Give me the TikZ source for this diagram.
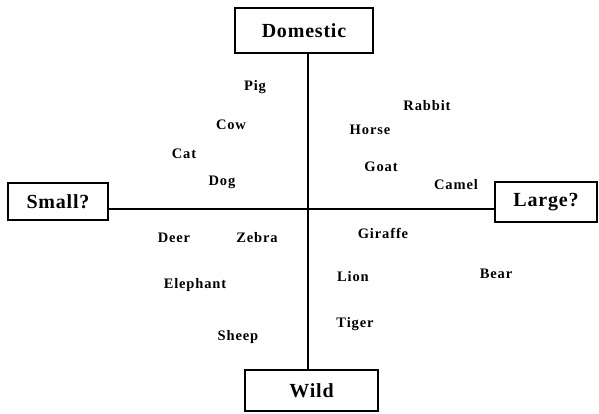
\documentclass[tikz,border=0pt]{standalone}
\usepackage{fontspec}
\setmainfont{Liberation Serif}
\begin{document}
\begin{tikzpicture}[x=1pt,y=-1pt,
  axisbox/.style={draw,line width=1.8pt,font=\bfseries\fontsize{20}{23}\selectfont\addfontfeatures{LetterSpace=4},inner sep=0pt},
  animal/.style={font=\bfseries\fontsize{14.5}{17}\selectfont\addfontfeatures{LetterSpace=6},inner sep=0pt},
  axisline/.style={line width=1.8pt}]
\useasboundingbox (0,0) rectangle (599,414);
\coordinate (c) at (308,209);
\node[axisbox,minimum width=138pt,minimum height=45pt] (dom) at (304,30.5) {Domestic};
\node[axisbox,minimum width=100pt,minimum height=37pt] (small) at (58,201.5) {Small?};
\node[axisbox,minimum width=102pt,minimum height=40pt] (large) at (546,202) {Large?};
\node[axisbox,minimum width=133pt,minimum height=41pt] (wild) at (311.5,390.5) {Wild};
\draw[axisline] (dom.south -| c) -- (wild.north -| c);
\draw[axisline] (small.east |- c) -- (large.west |- c);
\node[animal] (pig) at (255,87) {Pig};
\node[animal] (cow) at (231,125) {Cow};
\node[animal] (cat) at (184,154) {Cat};
\node[animal] (dog) at (222,182) {Dog};
\node[animal] (rabbit) at (427,106) {Rabbit};
\node[animal] (horse) at (370,130) {Horse};
\node[animal] (goat) at (381,167) {Goat};
\node[animal] (camel) at (456,185) {Camel};
\node[animal] (deer) at (174,238) {Deer};
\node[animal] (zebra) at (257,238) {Zebra};
\node[animal] (giraffe) at (383,233) {Giraffe};
\node[animal] (elephant) at (195,285) {Elephant};
\node[animal] (lion) at (353,277) {Lion};
\node[animal] (bear) at (496,274) {Bear};
\node[animal] (tiger) at (355,324) {Tiger};
\node[animal] (sheep) at (238,337) {Sheep};
\end{tikzpicture}
\end{document}
